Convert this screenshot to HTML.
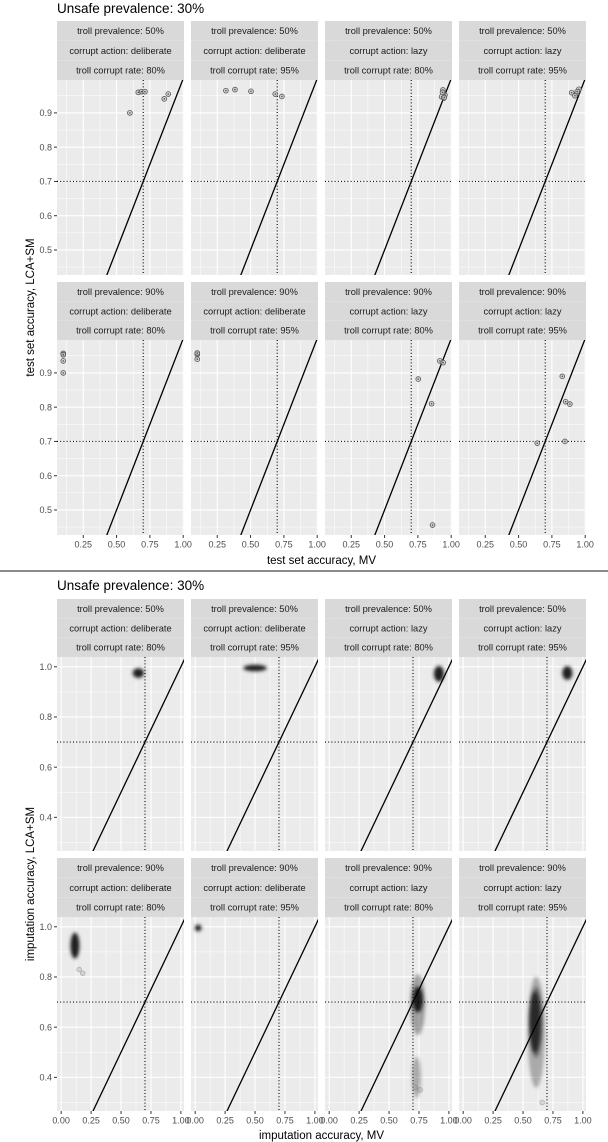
<!DOCTYPE html>
<html><head><meta charset="utf-8"><style>
html,body{margin:0;padding:0;background:#fff}
svg{display:block;font-family:"Liberation Sans",sans-serif}
</style></head><body>
<svg id="c" width="608" height="1142" viewBox="0 0 608 1142" xmlns="http://www.w3.org/2000/svg">
<defs><filter id="blur" x="-50%" y="-50%" width="200%" height="200%"><feGaussianBlur stdDeviation="1.6"/></filter></defs>
</svg>
<script>
// ---- data: top figure (test set accuracy) ----
const stripPrev = ["50%","50%","50%","50%","90%","90%","90%","90%"];
const stripAction = ["deliberate","deliberate","lazy","lazy","deliberate","deliberate","lazy","lazy"];
const stripRate = ["80%","95%","80%","95%","80%","95%","80%","95%"];
const testMV = [
 [0.60,0.663,0.688,0.713,0.858,0.888],
 [0.315,0.383,0.503,0.685,0.735],
 [0.938,0.953,0.928,0.945,0.935,0.948],
 [0.898,0.936,0.953,0.923,0.94],
 [0.10,0.10,0.10,0.10,0.10],
 [0.10,0.10,0.10,0.10],
 [0.753,0.915,0.94,0.853,0.86],
 [0.828,0.853,0.885,0.848,0.64]
];
const testLCA = [
 [0.90,0.96,0.962,0.962,0.941,0.955],
 [0.965,0.968,0.963,0.955,0.948],
 [0.967,0.952,0.947,0.943,0.96,0.945],
 [0.959,0.957,0.969,0.95,0.962],
 [0.955,0.957,0.953,0.935,0.90],
 [0.956,0.954,0.958,0.94],
 [0.882,0.935,0.930,0.81,0.456],
 [0.89,0.816,0.809,0.70,0.695]
];
const topXTicks = [0.25,0.5,0.75,1.0];
const topXTickLabels = ["0.25","0.50","0.75","1.00"];
const topYTicks = [0.5,0.6,0.7,0.8,0.9];
const topYTickLabels = ["0.5","0.6","0.7","0.8","0.9"];
// ---- data: bottom figure (imputation accuracy), clouds ----
const cloudPanel = [0,1,2,3,4,5,6,6,6,7,7,7];
const cloudX =  [0.645,0.50,0.917,0.87,0.115,0.025,0.74,0.74,0.73,0.60,0.61,0.61];
const cloudY =  [0.975,0.995,0.972,0.975,0.925,0.995,0.71,0.69,0.40,0.62,0.58,0.62];
const cloudSX = [0.045,0.095,0.040,0.040,0.035,0.025,0.040,0.06,0.035,0.045,0.07,0.05];
const cloudSY = [0.018,0.012,0.030,0.026,0.050,0.012,0.050,0.12,0.08,0.12,0.22,0.14];
const cloudDensity = [1,1,1,1,1,1,0.95,0.35,0.3,0.7,0.3,0.4];
const outPanel = [4,4,6,6,7];
const outX = [0.15,0.18,0.72,0.76,0.66];
const outY = [0.83,0.815,0.36,0.35,0.30];
const botXTicks = [0,0.25,0.5,0.75,1.0];
const botXTickLabels = ["0.00","0.25","0.50","0.75","1.00"];
const botYTicks = [0.4,0.6,0.8,1.0];
const botYTickLabels = ["0.4","0.6","0.8","1.0"];

const NS="http://www.w3.org/2000/svg";
const svg=document.getElementById('c');
function el(tag,attrs,parent,text){const e=document.createElementNS(NS,tag);for(const k in attrs)e.setAttribute(k,attrs[k]);if(text!==undefined)e.textContent=text;(parent||svg).appendChild(e);return e;}

const colLeft=[57,191,325,459], PW=127;

function drawFigure(cfg){
  const g=el('g',{});
  
  
  const t=el('text',{x:57,y:cfg.titleY,'font-size':13.5,fill:'#000'},g,'Unsafe prevalence: 30%');
  
  
  for(let p=0;p<8;p++){
    const r=Math.floor(p/4), c=p%4;
    const L=colLeft[c], T=cfg.panelTop[r], H=cfg.panelH, ST=cfg.stripTop[r];
    const sx=v=>L+(v-cfg.xd[0])/(cfg.xd[1]-cfg.xd[0])*PW;
    const sy=v=>T+(cfg.yd[1]-v)/(cfg.yd[1]-cfg.yd[0])*H;
    const pg=el('g',{},g);
    
    
    // strip
    const sh=(T-ST)/3;
    const sr=el('rect',{x:L,y:ST,width:PW,height:T-ST,fill:'#d9d9d9'},pg);
    
    
    for(let k=1;k<3;k++) el('line',{x1:L,x2:L+PW,y1:ST+k*sh,y2:ST+k*sh,stroke:'#f2f2f2','stroke-width':0.6,'stroke-dasharray':'1 1.5'},pg);
    const lines=['troll prevalence: '+stripPrev[p],'corrupt action: '+stripAction[p],'troll corrupt rate: '+stripRate[p]];
    lines.forEach((s,k)=>{const tx=el('text',{x:L+PW/2,y:ST+k*sh+sh/2+3.3,'font-size':9.3,fill:'#1a1a1a','text-anchor':'middle'},pg,s);
      
      });
    // panel bg
    const bg=el('rect',{x:L,y:T,width:PW,height:H,fill:'#ebebeb'},pg);
    
    
    const cp='cp'+cfg.name+p;
    const cpe=el('clipPath',{id:cp},pg); el('rect',{x:L,y:T,width:PW,height:H},cpe);
    const inner=el('g',{'clip-path':'url(#'+cp+')'},pg);
    // grid
    cfg.xMinor.forEach(v=>el('line',{x1:sx(v),x2:sx(v),y1:T,y2:T+H,stroke:'#fff','stroke-width':0.5},inner));
    cfg.yMinor.forEach(v=>el('line',{x1:L,x2:L+PW,y1:sy(v),y2:sy(v),stroke:'#fff','stroke-width':0.5},inner));
    cfg.xTicks.forEach(v=>el('line',{x1:sx(v),x2:sx(v),y1:T,y2:T+H,stroke:'#fff','stroke-width':1.1},inner));
    cfg.yTicks.forEach(v=>el('line',{x1:L,x2:L+PW,y1:sy(v),y2:sy(v),stroke:'#fff','stroke-width':1.1},inner));
    // reference lines
    const dl=el('line',{x1:sx(0.7),x2:sx(0.7),y1:T,y2:T+H,stroke:'#000','stroke-width':1.1,'stroke-dasharray':'1 2.2'},inner);
    
    
    const hl=el('line',{x1:L,x2:L+PW,y1:sy(0.7),y2:sy(0.7),stroke:'#000','stroke-width':1.1,'stroke-dasharray':'1 2.2'},inner);
    
    
    const idl=el('line',{x1:sx(0),y1:sy(0),x2:sx(1.2),y2:sy(1.2),stroke:'#000','stroke-width':1.3},inner);
    
    
    // data
    cfg.drawData(p,inner,sx,sy);
    // axes
    if(r===1){
      cfg.xTicks.forEach((v,i)=>{el('line',{x1:sx(v),x2:sx(v),y1:T+H,y2:T+H+3,stroke:'#333','stroke-width':1},pg);
        const tl=el('text',{x:sx(v),y:T+H+12.5,'font-size':9,fill:'#4d4d4d','text-anchor':'middle'},pg,cfg.xLabels[i]);
        
        });
    }
    if(c===0){
      cfg.yTicks.forEach((v,i)=>{el('line',{x1:L-3,x2:L,y1:sy(v),y2:sy(v),stroke:'#333','stroke-width':1},pg);
        const tl=el('text',{x:L-5,y:sy(v)+3.2,'font-size':9,fill:'#4d4d4d','text-anchor':'end'},pg,cfg.yLabels[i]);
        
        });
    }
  }
  const xt=el('text',{x:321.5,y:cfg.xTitleY,'font-size':11.5,fill:'#000','text-anchor':'middle'},g,cfg.xTitle);
  
  
  const yc=(cfg.panelTop[0]+cfg.panelTop[1]+cfg.panelH)/2;
  const yt=el('text',{x:0,y:0,'font-size':11.5,fill:'#000','text-anchor':'middle',transform:'translate(34,'+yc+') rotate(-90)'},g,cfg.yTitle);
  
  
}

drawFigure({name:'test-set-figure',titleY:13,stripTop:[21,282],panelTop:[80,340],panelH:195,
  xd:[0.053,1.006],yd:[0.427,0.996],
  xTicks:topXTicks,xLabels:topXTickLabels,yTicks:topYTicks,yLabels:topYTickLabels,
  xMinor:[0.125,0.375,0.625,0.875],yMinor:[0.45,0.55,0.65,0.75,0.85,0.95],
  xTitleY:564,xTitle:'test set accuracy, MV',yTitle:'test set accuracy, LCA+SM',
  drawData:(p,g,sx,sy)=>{
    testMV[p].forEach((v,i)=>{
      const c=el('circle',{cx:sx(v),cy:sy(testLCA[p][i]),r:2.4,fill:'#c8c8c8','fill-opacity':0.7,stroke:'#555','stroke-width':0.8},g);
      
      
      el('circle',{cx:sx(v),cy:sy(testLCA[p][i]),r:0.8,fill:'#555'},g);
    });
  }});

const sep=el('line',{x1:0,x2:608,y1:571,y2:571,stroke:'#444','stroke-width':1.3});



drawFigure({name:'imputation-figure',titleY:590,stripTop:[599,858],panelTop:[657,917],panelH:194,
  xd:[-0.035,1.026],yd:[0.266,1.039],
  xTicks:botXTicks,xLabels:botXTickLabels,yTicks:botYTicks,yLabels:botYTickLabels,
  xMinor:[0.125,0.375,0.625,0.875],yMinor:[0.3,0.5,0.7,0.9],
  xTitleY:1139,xTitle:'imputation accuracy, MV',yTitle:'imputation accuracy, LCA+SM',
  drawData:(p,g,sx,sy)=>{
    cloudPanel.forEach((cp,i)=>{ if(cp!==p) return;
      const cx=sx(cloudX[i]), cy=sy(cloudY[i]);
      const rx=Math.abs(sx(cloudX[i]+cloudSX[i])-cx), ry=Math.abs(sy(cloudY[i]+cloudSY[i])-cy);
      const h=el('ellipse',{cx:cx,cy:cy,rx:rx+2,ry:ry+2,fill:'#000','fill-opacity':0.12*cloudDensity[i],filter:'url(#blur)'},g);
      
      
      const e=el('ellipse',{cx:cx,cy:cy,rx:rx,ry:ry,fill:'#000','fill-opacity':0.85*cloudDensity[i],filter:'url(#blur)'},g);
      
      
    });
    outPanel.forEach((op,i)=>{ if(op!==p) return;
      const c=el('circle',{cx:sx(outX[i]),cy:sy(outY[i]),r:2.4,fill:'#999','fill-opacity':0.3,stroke:'#777','stroke-opacity':0.5,'stroke-width':0.7},g);
      
      
    });
  }});
</script>
</body></html>
